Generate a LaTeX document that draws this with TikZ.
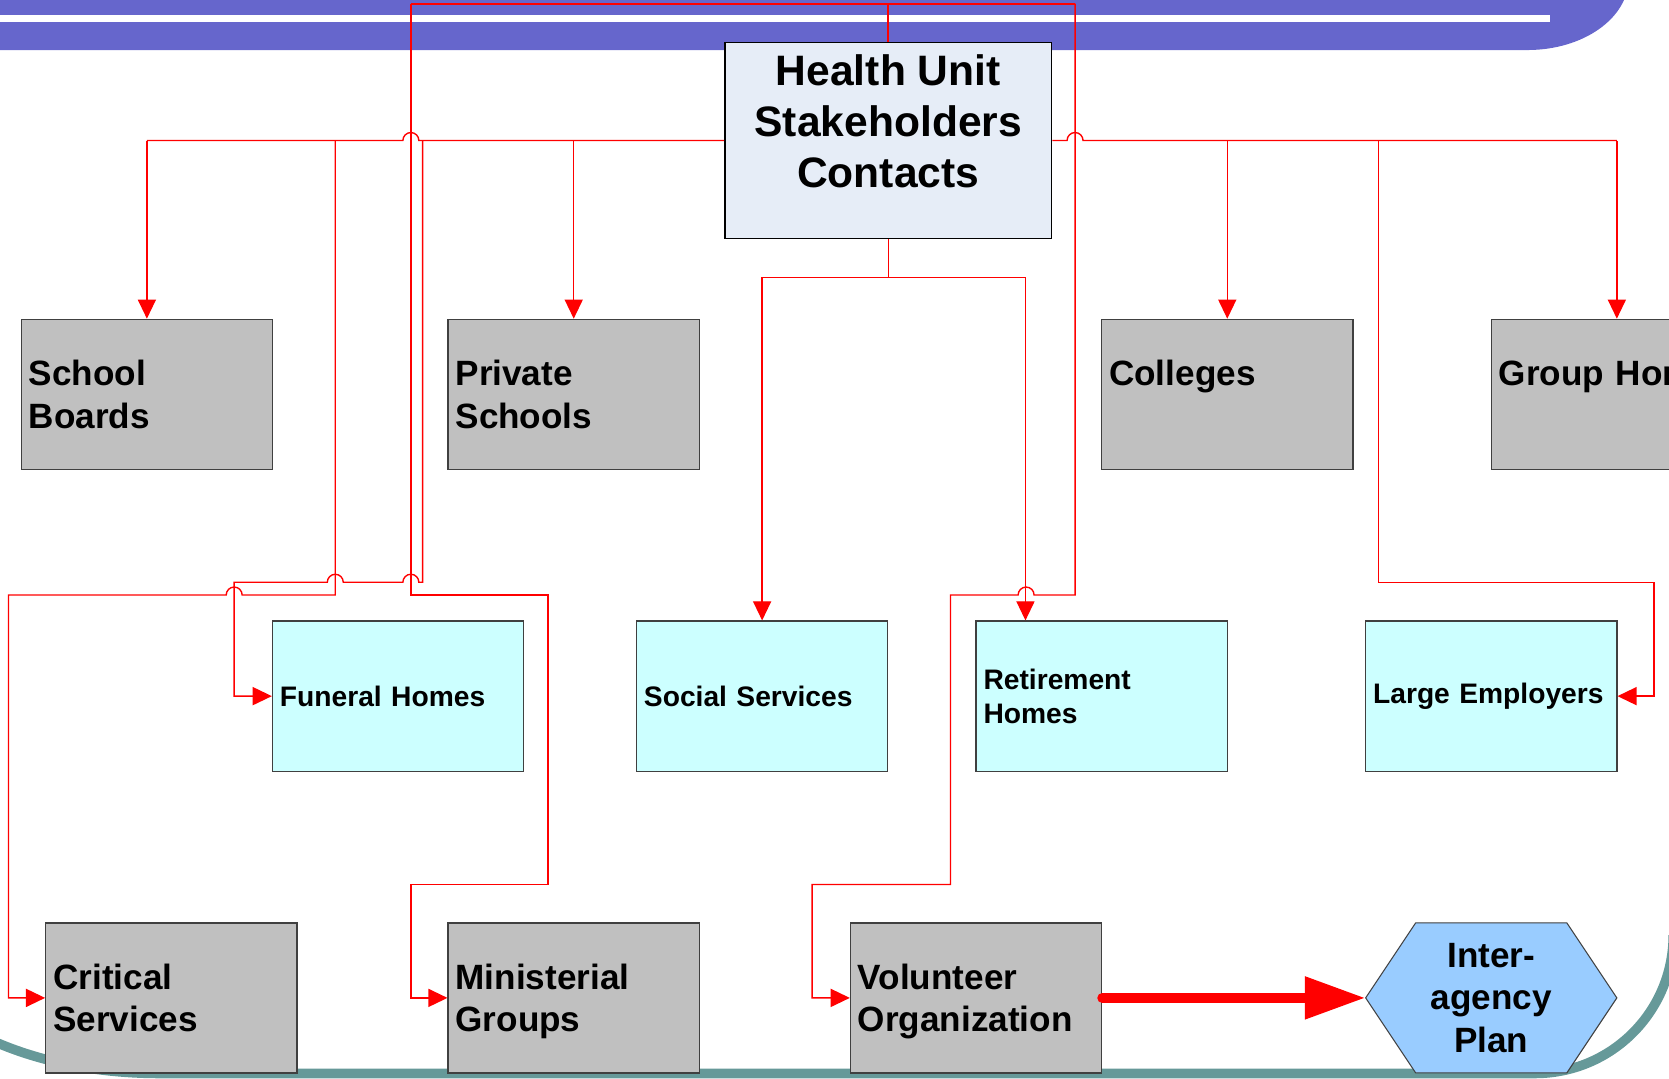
\documentclass[tikz,border=0pt]{standalone}
\usepackage{fontspec}
\setmainfont{Liberation Sans}
\usetikzlibrary{arrows.meta,calc}
\definecolor{banner}{HTML}{6666CC}
\definecolor{tealband}{HTML}{669999}
\definecolor{boxgray}{HTML}{C0C0C0}
\definecolor{boxcyan}{HTML}{CCFFFF}
\definecolor{hufill}{HTML}{E6EDF7}
\definecolor{hexfill}{HTML}{99CCFF}
\definecolor{linered}{HTML}{FF0000}
\newcommand\nodepth[1]{\raisebox{0pt}[\height][0pt]{#1}}
\begin{document}
\begin{tikzpicture}[x=1pt,y=-1pt,
  basebox/.style={draw=black!75, line width=1.2pt, minimum width=236pt, minimum height=141pt,
    inner xsep=7pt, inner ysep=0pt, text width=222pt, align=left},
  graybox/.style={basebox, fill=boxgray, font=\fontsize{33}{40}\selectfont\bfseries},
  cyanbox/.style={basebox, fill=boxcyan, font=\fontsize{26.5}{32}\selectfont\bfseries},
  conn/.style={draw=linered, line width=1.3pt},
  arr/.style={conn, -{Triangle[length=18pt,width=17pt]}},
  bigarr/.style={draw=linered, line width=9.5pt, line cap=round, -{Triangle[length=57pt,width=38pt]}}]
\useasboundingbox (0,0) rectangle (1568,1013);
\clip (0,0) rectangle (1568,1013);
% background banner
\fill[banner] (0,-30) -- (0,47) -- (1435,47) arc[start angle=90,end angle=0,x radius=95,y radius=67] -- (1530,-30) -- cycle;
\fill[white] (0,14) rectangle (1456,21);
% teal frame at bottom
\draw[tealband, line width=9pt] (-100,870) arc[start angle=180,end angle=90,x radius=250,y radius=138.5]
  -- (1442,1008.5) arc[start angle=90,end angle=0,radius=130];
% main box
\node[draw=black, line width=1.5pt, fill=hufill, minimum width=307pt, minimum height=184pt, inner sep=0pt] (hu) at (834.5,132) {};
% first row
\node[graybox] (sb) at (138,370.5) {School\\Boards};
\node[graybox] (ps) at (539,370.5) {Private\\Schools};
\node[graybox] (co) at (1153,370.5) {Colleges\\\mbox{}};
\node[graybox] (gh) at (1519,370.5) {Group Homes\\\mbox{}};
% second row
\node[cyanbox] (fh) at (374,654) {Funeral Homes};
\node[cyanbox] (ss) at (716,654) {Social Services};
\node[cyanbox] (rh) at (1035,654) {Retirement\\Homes};
\node[cyanbox] (le) at (1401,654) {Large Employers};
% third row
\node[graybox] (cs) at (161,937.5) {Critical\\Services};
\node[graybox] (mg) at (539,937.5) {Ministerial\\\nodepth{Groups}};
\node[graybox] (vo) at (917,937.5) {Volunteer\\\nodepth{Organization}};
\fill[hexfill, draw=black!75, line width=1pt] (1283,937.5) -- (1330,867) -- (1472,867) -- (1519,937.5) -- (1472,1008) -- (1330,1008) -- cycle;
\node[font=\fontsize{33}{40}\selectfont\bfseries, align=center, minimum width=236pt, minimum height=141pt, inner sep=0pt] (iap) at (1401,937.5) {Inter-\\agency\\Plan};
% text of main box
\node[font=\fontsize{40}{48}\selectfont\bfseries, align=center, anchor=north, inner sep=0pt] (hut) at (834.5,51) {Health Unit\\Stakeholders\\Contacts};
% named waypoints
\coordinate (top) at (834.5,4);
\coordinate (rhin) at ($(rh.north west)+(47,0)$);
% top line
\draw[conn, line width=1.5pt] (hu.north) -- (top);
\draw[conn, line width=1.5pt] (386,4) -- (1010,4);
% bus
\draw[conn] (hu.west) -- (393.5,132) arc[start angle=0,end angle=-180,radius=7.5] -- (sb.north |- hu.west);
\draw[conn] (hu.east) -- (1002.5,132) arc[start angle=180,end angle=360,radius=7.5] -- (gh.north |- hu.east);
\draw[arr] (sb.north |- hu.west) -- (sb.north);
\draw[arr] (ps.north |- hu.west) -- (ps.north);
\draw[arr] (co.north |- hu.east) -- (co.north);
\draw[arr] (gh.north |- hu.east) -- (gh.north);
% left branches
\draw[arr] (397,132) -- (397,547) -- (393.5,547) arc[start angle=0,end angle=-180,radius=7.5]
  -- (322.5,547) arc[start angle=0,end angle=-180,radius=7.5] -- (220,547) |- (fh.west);
\draw[arr] (315,132) -- (315,559) -- (227.5,559) arc[start angle=0,end angle=-180,radius=7.5]
  -- (8,559) |- (cs.west);
\draw[arr] (top) -| (386,559) -| (515,831) -| (386,937.5) -- (mg.west);
\draw[arr] (top) -| (1010,559) -- (971.5,559) arc[start angle=0,end angle=-180,radius=7.5]
  -- (893,559) -- (893,831) -| (763,937.5) -- (vo.west);
% lower centre branches
\draw[arr] (hu.south) -- ++(0,36) -| (ss.north);
\draw[arr] (hu.south) -- ++(0,36) -| (rhin);
% right branch
\draw[arr] (1295,132) -- (1295,547) -- (1554,547) |- (le.east);
% thick arrow
\draw[bigarr] (vo.east) -- (iap.west);
\end{tikzpicture}
\end{document}
